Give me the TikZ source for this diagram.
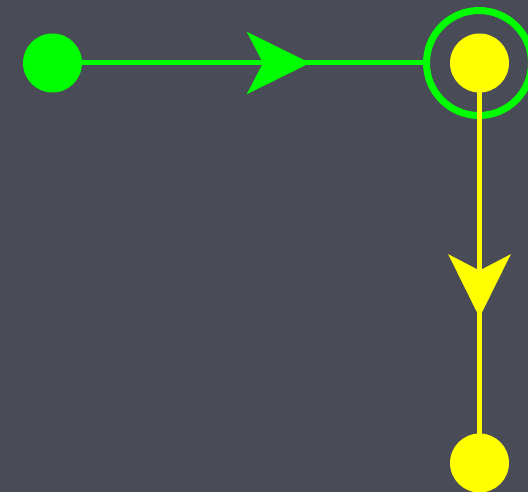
\documentclass[tikz,border=0pt]{standalone}
\usetikzlibrary{arrows.meta,decorations.markings}
\definecolor{bg}{HTML}{494B57}
\definecolor{grn}{HTML}{00FF00}
\definecolor{ylw}{HTML}{FFFF00}
\tikzset{
  dot/.style={circle, fill=#1, minimum size=59pt, inner sep=0pt, outer sep=0pt},
  ring/.style={circle, draw=grn, line width=7pt, minimum size=105pt, inner sep=0pt, outer sep=0pt},
  edge/.style={draw=#1, line width=5pt},
  midhead/.style 2 args={postaction={decorate}, decoration={markings,
    mark=at position #2 with {\arrow[#1]{Stealth[length=63pt,width=62pt,inset=16pt]}}}}
}
\begin{document}
\begin{tikzpicture}[x=1pt,y=-1pt]
  \fill[bg] (0,0) rectangle (528,492);
  \useasboundingbox (0,0) rectangle (528,492);
  \node[dot=grn] (start) at (52.5,63) {};
  \node[ring] (sel) at (479,63) {};
  \node[dot=ylw] (mid) at (479.5,63) {};
  \node[dot=ylw] (end) at (479.5,463) {};
  \path[edge=grn, midhead={grn}{228pt}] (start.east) -- (sel.west);
  \path[edge=ylw, midhead={ylw}{225pt}] (mid.south) -- (end.north);
\end{tikzpicture}
\end{document}
